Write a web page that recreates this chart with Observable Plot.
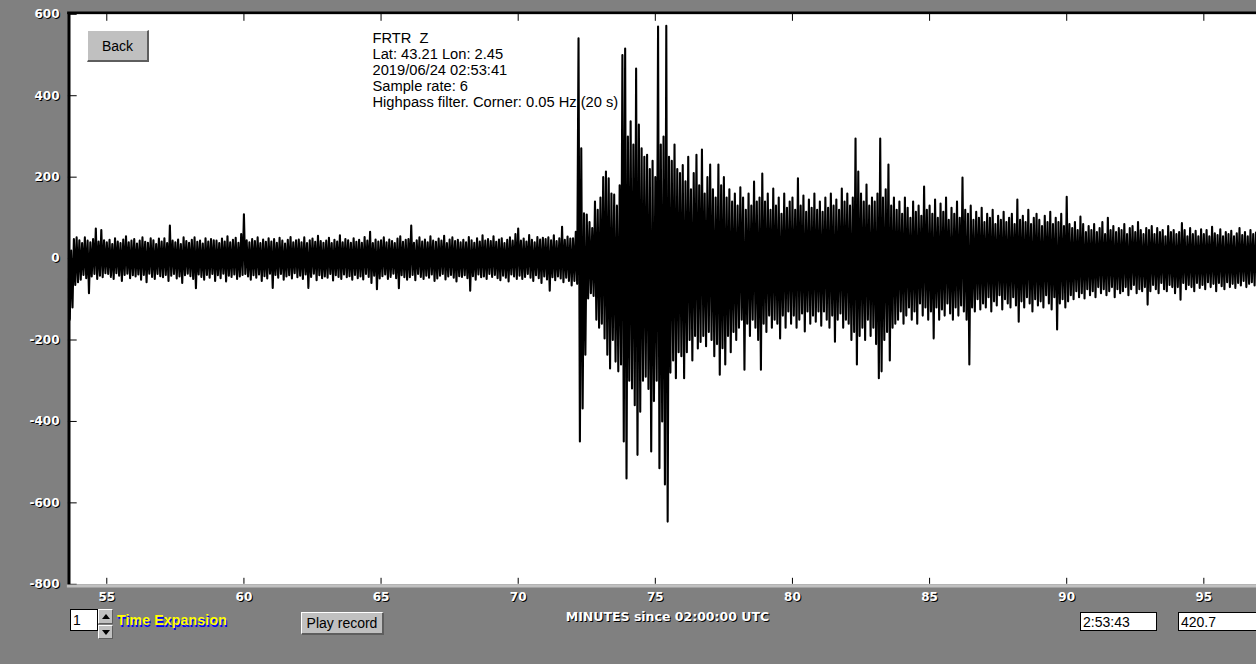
<!DOCTYPE html>
<html><head><meta charset="utf-8">
<script src="https://cdn.jsdelivr.net/npm/d3@7"></script>
<script src="https://cdn.jsdelivr.net/npm/@observablehq/plot@0.6"></script>
<style>
html,body{margin:0;padding:0;background:#808080;overflow:hidden}
#wrap{position:relative;width:1256px;height:664px;overflow:hidden}
#chart svg{display:block}
.btn{position:absolute;box-sizing:border-box;background:#c0c0c0;border-style:solid;border-width:1px 2px 2px 1px;border-color:#ffffff #5e5e5e #5e5e5e #ffffff;font:14px "Liberation Sans",Arial,sans-serif;color:#000;display:flex;align-items:center;justify-content:center}
.box{position:absolute;box-sizing:border-box;background:#fff;border:1px solid #000;font:14px "Liberation Sans",Arial,sans-serif;color:#000;padding-left:2px;display:flex;align-items:center;white-space:nowrap}
.spin{position:absolute;box-sizing:border-box;background:#c0c0c0;border-style:solid;border-width:1px;border-color:#ffffff #5e5e5e #5e5e5e #ffffff}
.tri{position:absolute;left:3px;width:0;height:0;border-left:4px solid transparent;border-right:4px solid transparent}
#texp{position:absolute;left:117px;top:612px;font:bold 14px/16px "Liberation Sans",Arial,sans-serif;color:#ffff00;text-shadow:1px 2px 0 #0000ff;white-space:nowrap;letter-spacing:0.2px}
</style>
</head><body>
<div id="wrap">
  <div id="chart"></div>
  <div class="btn" style="left:87px;top:30px;width:62px;height:32px;">Back</div>
  <div class="box" style="left:70px;top:609px;width:28px;height:22px;">1</div>
  <div class="spin" style="left:98px;top:609px;width:15px;height:15px;"><div class="tri" style="top:4px;border-bottom:5px solid #000"></div></div>
  <div class="spin" style="left:98px;top:625px;width:15px;height:14px;"><div class="tri" style="top:4px;border-top:5px solid #000"></div></div>
  <div id="texp">Time Expansion</div>
  <div class="btn" style="left:301px;top:612px;width:83px;height:23px;">Play record</div>
  <div class="box" style="left:1080px;top:612px;width:77px;height:19px;">2:53:43</div>
  <div class="box" style="left:1178px;top:612px;width:100px;height:19px;">420.7</div>
</div>
<script>
// ---- data ----
const xTicks = [55, 60, 65, 70, 75, 80, 85, 90, 95];
const yTicks = [-800, -600, -400, -200, 0, 200, 400, 600];
const infoLines = ["FRTR\u00a0 Z", "Lat: 43.21 Lon: 2.45", "2019/06/24 02:53:41", "Sample rate: 6", "Highpass filter. Corner: 0.05 Hz (20 s)"];
const xLabel = "MINUTES since 02:00:00 UTC";

// envelope of the trace per 0.1-minute bin (max, min), starting at minute 53.6
const binStart = 53.6, binStep = 0.1;
const hi = [
  -50, 20, 48, 52,
  45, 38, 52, 44, 40, 48, 74, 42, 70, 45,
  40, 46, 36, 50, 42, 38, 47, 55, 40, 44,
  48, 37, 44, 52, 41, 39, 50, 45, 36, 49,
  42, 50, 38, 81, 44, 40, 47, 36, 52, 43,
  39, 46, 52, 41, 44, 37, 50, 42, 48, 45,
  44, 38, 49, 42, 55, 40, 46, 51, 39, 60,
  109, 45, 40, 48, 43, 52, 38, 47, 41, 50,
  42, 48, 39, 51, 44, 37, 46, 53, 40, 45,
  47, 40, 52, 38, 45, 49, 41, 56, 43, 39,
  44, 51, 38, 46, 42, 57, 40, 48, 45, 39,
  50, 41, 46, 39, 53, 44, 66, 38, 47, 42,
  45, 52, 40, 47, 43, 38, 49, 55, 41, 46,
  48, 81, 39, 45, 52, 42, 47, 40, 55, 44,
  41, 49, 44, 56, 38, 47, 52, 43, 46, 40,
  46, 40, 53, 45, 39, 50, 42, 57, 44, 48,
  43, 55, 41, 47, 50, 38, 46, 52, 44, 60,
  74, 44, 49, 42, 58, 46, 40, 53, 47, 51,
  48, 52, 45, 57, 43, 50, 78, 46, 54, 49,
  50, 66, 541, 271, 111, 108, 90, 75, 140, 120,
  150, 200, 214, 197, 160, 157, 130, 180, 500, 516,
  300, 337, 280, 467, 329, 271, 250, 255, 220, 240,
  200, 570, 280, 300, 572, 250, 240, 280, 220, 210,
  230, 190, 250, 170, 210, 255, 180, 268, 160, 200,
  231, 170, 150, 231, 180, 200, 150, 170, 140, 160,
  130, 175, 150, 120, 160, 130, 189, 140, 150, 209,
  140, 160, 120, 172, 130, 150, 110, 160, 125, 140,
  150, 120, 197, 130, 155, 115, 145, 125, 160, 120,
  140, 115, 150, 125, 160, 130, 145, 120, 172, 140,
  160, 130, 150, 295, 214, 160, 140, 182, 130, 150,
  140, 160, 295, 150, 170, 231, 130, 150, 120, 140,
  110, 150, 125, 100, 140, 115, 130, 105, 177, 120,
  130, 110, 145, 100, 135, 115, 150, 95, 125, 110,
  140, 100, 199, 120, 110, 130, 95, 115, 100, 125,
  90, 110, 100, 120, 85, 105, 95, 115, 90, 100,
  110, 85, 145, 95, 105, 90, 120, 85, 100, 110,
  95, 80, 105, 90, 115, 85, 100, 90, 110, 80,
  152, 85, 75, 90, 70, 103, 85, 65, 80, 70,
  85, 65, 75, 90, 60, 100, 70, 80, 65, 75,
  70, 85, 60, 75, 80, 65, 90, 70, 60, 75,
  70, 80, 60, 75, 65, 70, 55, 80, 65, 70,
  60, 65, 87, 70, 55, 75, 60, 68, 55, 72,
  60, 70, 55, 78, 62, 58, 72, 55, 65, 60,
  68, 55, 62, 75, 58, 65, 55, 70, 60, 64,
  58
];
const lo = [
  -150, -120, -65, -58,
  -52, -40, -48, -85, -44, -38, -50, -42, -46, -36,
  -38, -45, -50, -36, -42, -55, -40, -37, -48, -41,
  -44, -39, -52, -40, -58, -37, -45, -50, -38, -43,
  -46, -40, -55, -42, -38, -49, -44, -60, -41, -37,
  -43, -50, -73, -39, -45, -52, -40, -47, -38, -55,
  -41, -48, -37, -56, -42, -45, -39, -50, -44, -40,
  -38, -44, -52, -41, -47, -39, -55, -43, -49, -37,
  -72, -40, -47, -38, -52, -44, -41, -49, -36, -46,
  -42, -50, -39, -72, -45, -37, -53, -41, -48, -44,
  -47, -38, -54, -41, -45, -50, -39, -46, -43, -52,
  -40, -48, -44, -51, -38, -45, -60, -42, -75, -49,
  -43, -39, -50, -45, -37, -48, -73, -41, -46, -52,
  -46, -40, -53, -38, -45, -50, -42, -47, -39, -55,
  -49, -42, -38, -51, -44, -40, -47, -56, -43, -45,
  -41, -48, -79, -43, -52, -39, -46, -44, -50, -38,
  -45, -40, -48, -53, -42, -47, -56, -39, -44, -50,
  -42, -50, -45, -38, -47, -55, -41, -48, -60, -44,
  -51, -79, -46, -53, -44, -49, -58, -47, -55, -66,
  -55, -62, -449, -368, -236, -98, -85, -92, -150, -170,
  -160, -196, -236, -270, -200, -253, -277, -260, -449, -540,
  -300, -319, -360, -482, -376, -300, -290, -320, -474, -350,
  -300, -515, -400, -555, -646, -280, -250, -294, -230, -240,
  -294, -230, -200, -250, -190, -221, -205, -190, -215, -180,
  -200, -240, -210, -285, -220, -260, -190, -230, -180, -200,
  -170, -150, -273, -160, -190, -150, -170, -200, -273, -160,
  -180, -140, -170, -150, -160, -196, -140, -170, -130, -160,
  -140, -170, -150, -135, -179, -130, -160, -140, -155, -130,
  -165, -130, -150, -170, -140, -204, -150, -135, -170, -150,
  -160, -200, -180, -260, -190, -170, -200, -150, -190, -170,
  -210, -294, -277, -200, -180, -250, -170, -160, -150, -130,
  -160, -140, -120, -150, -130, -160, -110, -140, -120, -150,
  -130, -196, -120, -150, -125, -140, -110, -135, -150, -120,
  -140, -115, -130, -150, -260, -120, -130, -100, -125, -110,
  -120, -95, -130, -105, -115, -90, -125, -100, -110, -120,
  -95, -115, -155, -105, -120, -95, -110, -130, -100, -115,
  -105, -120, -90, -110, -125, -95, -174, -110, -100, -120,
  -105, -90, -100, -80, -95, -85, -98, -75, -90, -80,
  -95, -70, -85, -75, -90, -80, -70, -95, -75, -85,
  -80, -70, -90, -75, -65, -85, -75, -80, -70, -113,
  -80, -65, -75, -85, -60, -75, -80, -65, -70, -85,
  -70, -101, -60, -75, -65, -70, -80, -60, -72, -65,
  -75, -58, -70, -62, -80, -60, -68, -75, -58, -70,
  -62, -72, -60, -66, -55, -70, -62, -58, -66, -60,
  -62
];

// ---- build trace: within each bin, the maximum then the minimum ----
const trace = [];
hi.forEach((h, i) => {
  const t = binStart + i * binStep;
  trace.push({t, v: h});
  trace.push({t: t + binStep / 2, v: lo[i]});
});

const W = 1256, H = 664, mL = 67.9, mR = 0, mT = 13.8, mB = 80.2;
const fw = W - mL - mR, fh = H - mT - mB;
const lab = {fontFamily: "DejaVu Sans", fontWeight: "bold", fontSize: 12};
const fmt = d => String(d);

const chart = Plot.plot({
  width: W, height: H,
  marginLeft: mL, marginRight: mR, marginTop: mT, marginBottom: mB,
  style: "background:#808080;overflow:visible;",
  x: {domain: [53.6, 96.92], axis: null},
  y: {domain: [-800, 600], axis: null},
  marks: [
    Plot.frame({fill: "white", stroke: null}),
    Plot.text([infoLines.join("\n")], {frameAnchor: "top-left", dx: 304.1, dy: 17.8, lineAnchor: "top", textAnchor: "start", lineHeight: 16 / 14.7, fontFamily: "Liberation Sans", fontSize: 14.7, fill: "black"}),
    Plot.tickY(yTicks, {y: d => d, insetRight: fw - 8.8, stroke: "black"}),
    Plot.tickX(xTicks, {x: d => d, insetBottom: fh - 7, stroke: "black"}),
    Plot.tickX(xTicks, {x: d => d, insetTop: fh - 6, stroke: "black"}),
    Plot.line(trace, {x: "t", y: "v", stroke: "black", strokeWidth: 2.1, strokeLinejoin: "round", clip: true}),
    Plot.frame({anchor: "top", stroke: "black", strokeWidth: 2.5, dy: -1.6}),
    Plot.frame({anchor: "left", stroke: "black", strokeWidth: 3, dx: 0.6}),
    Plot.frame({anchor: "bottom", stroke: "#c0c0c0", strokeWidth: 3, dy: 1.7}),
    Plot.text(yTicks, {y: d => d, text: fmt, frameAnchor: "left", textAnchor: "end", dx: -7.9, dy: 1, fill: "black", ...lab}),
    Plot.text(yTicks, {y: d => d, text: fmt, frameAnchor: "left", textAnchor: "end", dx: -8.9, fill: "white", ...lab}),
    Plot.text(xTicks, {x: d => d, text: fmt, frameAnchor: "bottom", dx: 1, dy: 17.7, fill: "black", ...lab}),
    Plot.text(xTicks, {x: d => d, text: fmt, frameAnchor: "bottom", dy: 16.7, fill: "white", ...lab}),
    Plot.text([xLabel], {text: d => d, frameAnchor: "bottom", dx: 6, dy: 37.5, fill: "black", ...lab, fontSize: 12.5}),
    Plot.text([xLabel], {text: d => d, frameAnchor: "bottom", dx: 5, dy: 36.5, fill: "white", ...lab, fontSize: 12.5})
  ]
});
document.getElementById("chart").appendChild(chart);
</script>
</body></html>
